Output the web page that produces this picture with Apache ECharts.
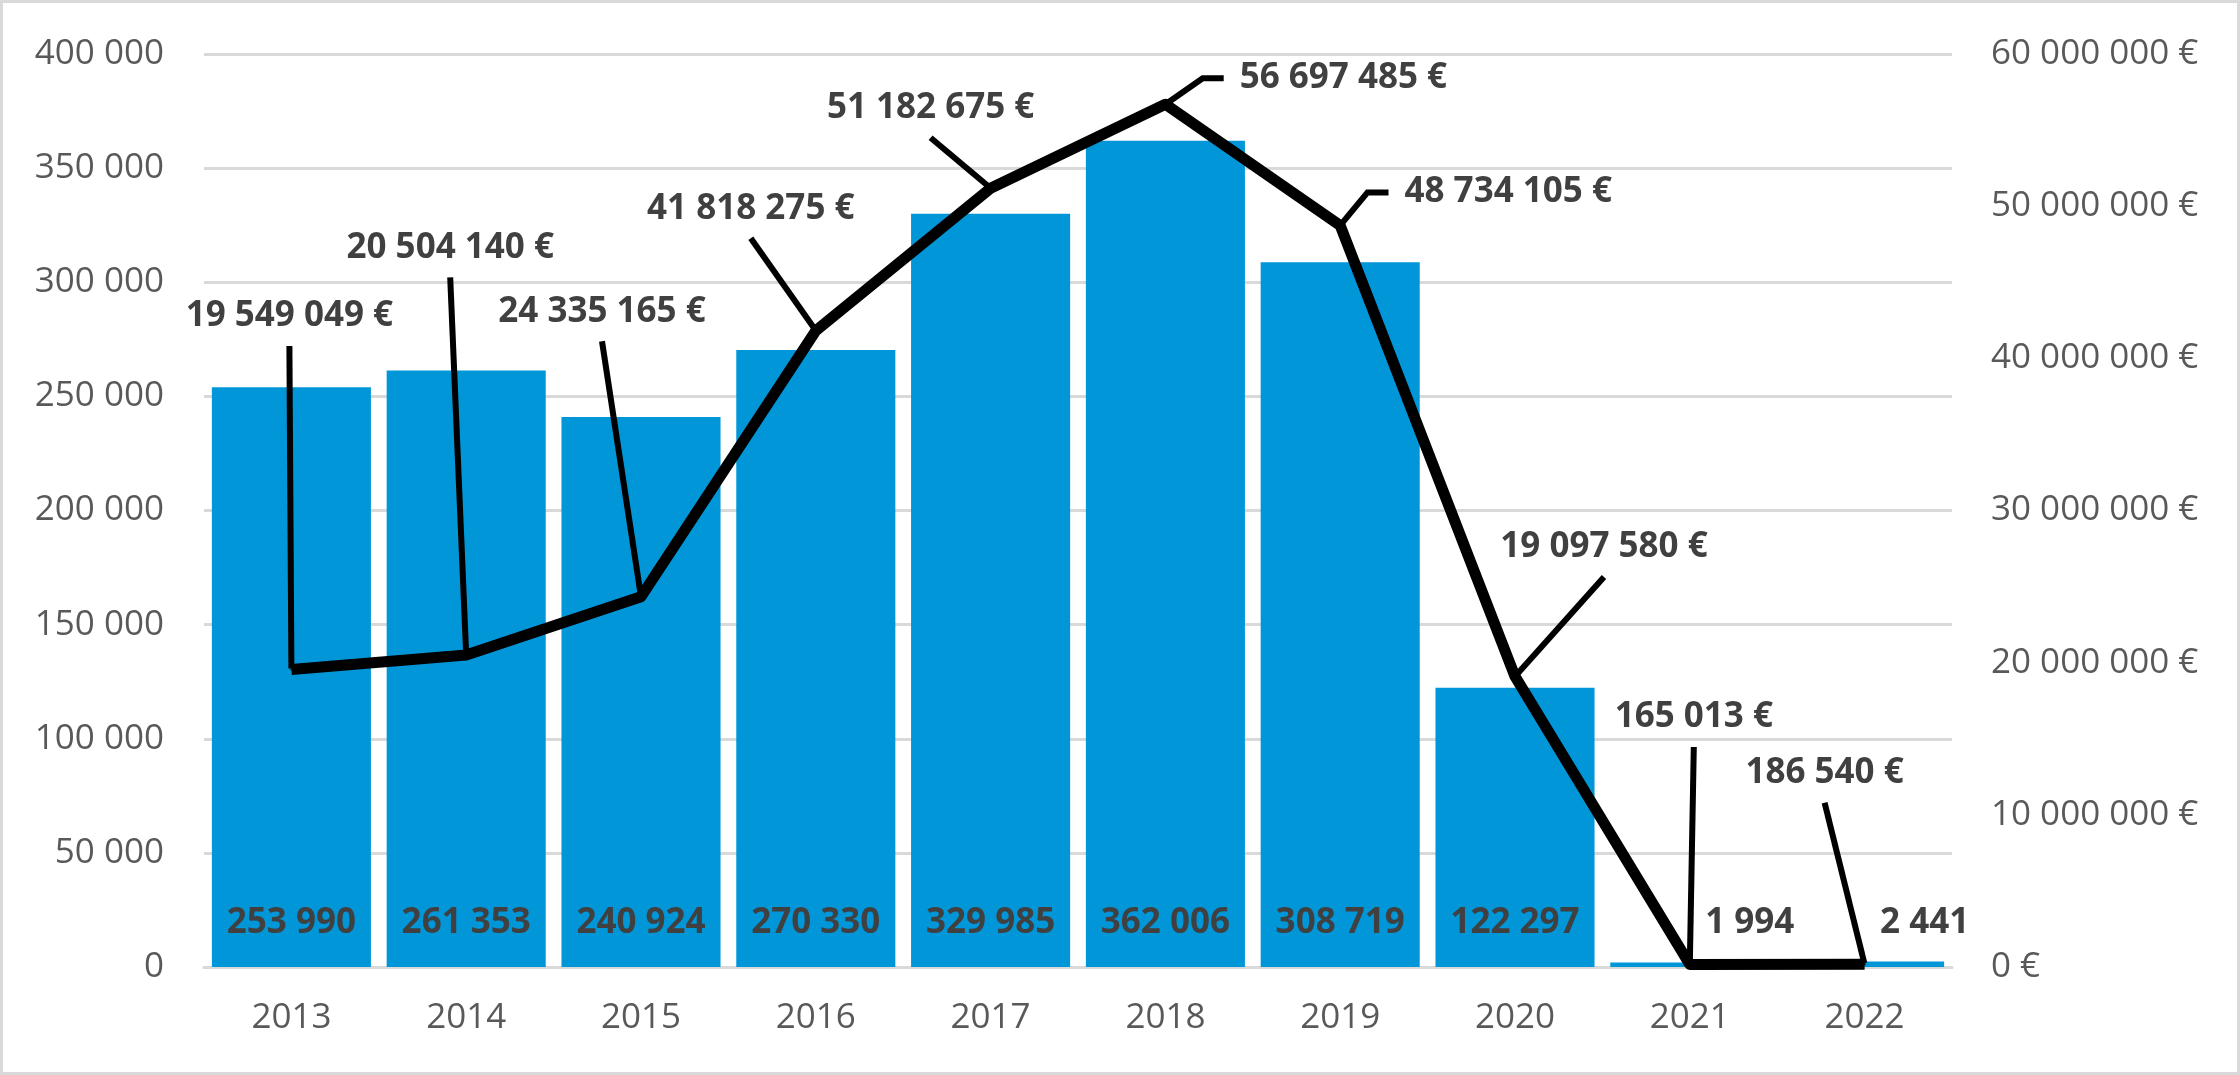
<!DOCTYPE html>
<html>
<head>
<meta charset="utf-8">
<title>Chart</title>
<script src="https://cdn.jsdelivr.net/npm/echarts@6/dist/echarts.min.js"></script>
<style>
html, body { margin: 0; padding: 0; background: #fff; }
#main { width: 2240px; height: 1075px; }
</style>
</head>
<body>
<div id="main"></div>
<script>
// data
var years = ['2013', '2014', '2015', '2016', '2017', '2018', '2019', '2020', '2021', '2022'];
var counts = [253990, 261353, 240924, 270330, 329985, 362006, 308719, 122297, 1994, 2441];
var amounts = [19549049, 20504140, 24335165, 41818275, 51182675, 56697485, 48734105, 19097580, 165013, 186540];

// where the amount labels were dragged to (px from the point) - like in the excel file
var amountLabelOffsets = [[-2, -353], [-16, -407], [-39, -285], [-65, -122], [-60, -80],
                          [178, -26], [168, -33], [89, -129], [4, -247], [-40, -191]];
var countLabelShift = [0, 0, 0, 0, 0, 0, 0, 0, 60, 60];

var FONT = 'Open Sans';

function sp(v) {
  return String(v).replace(/\B(?=(\d{3})+(?!\d))/g, ' ');
}

var barData = [];
for (var i = 0; i < counts.length; i++) {
  barData.push({ value: counts[i], label: { offset: [countLabelShift[i], 0] } });
}
var lineData = [];
for (var j = 0; j < amounts.length; j++) {
  var item = { value: amounts[j] };
  // the two labels right of the peak have an elbow in the leader line
  if (j == 5 || j == 6) item.labelLine = { length2: 21 };
  // 2020: wider box so the leader goes to the bottom of the label, not its side
  if (j == 7) item.label = { padding: [12, 44] };
  lineData.push(item);
}

var myChart = echarts.init(document.getElementById('main'));
var option = {
  backgroundColor: '#fff',
  animation: false,
  textStyle: { fontFamily: FONT },
  graphic: [{
    type: 'rect',
    shape: { x: 1.5, y: 1.5, width: 2237, height: 1072 },
    style: { fill: null, stroke: '#d9d9d9', lineWidth: 3 },
    silent: true
  }],
  grid: { left: 204, right: 288, top: 54, bottom: 108 },
  xAxis: {
    type: 'category',
    data: years,
    axisLine: { lineStyle: { color: '#d9d9d9', width: 3 } },
    axisTick: { show: false },
    axisLabel: { color: '#595959', fontSize: 35, fontFamily: FONT, margin: 34 }
  },
  yAxis: [
    {
      type: 'value',
      min: 0, max: 400000, interval: 50000,
      axisLine: { show: false },
      axisTick: { show: false },
      splitLine: { lineStyle: { color: '#d9d9d9', width: 3 } },
      axisLabel: { color: '#595959', fontSize: 35, fontFamily: FONT, margin: 40, formatter: sp }
    },
    {
      type: 'value',
      min: 0, max: 60000000, interval: 10000000,
      axisLine: { show: false },
      axisTick: { show: false },
      splitLine: { show: false },
      axisLabel: {
        color: '#595959', fontSize: 35, fontFamily: FONT, margin: 39,
        formatter: function (v) { return sp(v) + ' €'; }
      }
    }
  ],
  series: [
    {
      name: 'count',
      type: 'bar',
      data: barData,
      barCategoryGap: '9%',
      itemStyle: { color: '#0096d8' },
      label: {
        show: true,
        position: 'insideBottom',
        distance: 26,
        color: '#404040',
        fontSize: 35,
        fontWeight: 'bold',
        fontFamily: FONT,
        formatter: function (p) { return sp(p.value); }
      }
    },
    {
      name: 'amount',
      type: 'line',
      yAxisIndex: 1,
      data: lineData,
      symbol: 'circle',
      symbolSize: 2,
      showSymbol: true,
      itemStyle: { color: '#000' },
      lineStyle: { color: '#000', width: 11, join: 'round' },
      label: {
        show: true,
        color: '#404040',
        fontSize: 35,
        fontWeight: 'bold',
        fontFamily: FONT,
        padding: [12, 16],
        // invisible box so the padding counts for the leader line
        backgroundColor: 'rgba(255,255,255,0)',
        formatter: function (p) { return sp(p.value) + ' €'; }
      },
      labelLine: {
        show: true,
        length2: 0,
        lineStyle: { color: '#000', width: 6 }
      },
      labelLayout: function (p) {
        var o = amountLabelOffsets[p.dataIndex];
        return {
          x: p.rect.x + p.rect.width / 2 + o[0],
          y: p.rect.y + p.rect.height / 2 + o[1],
          align: 'center',
          verticalAlign: 'middle'
        };
      }
    }
  ]
};
myChart.setOption(option);
</script>
</body>
</html>
